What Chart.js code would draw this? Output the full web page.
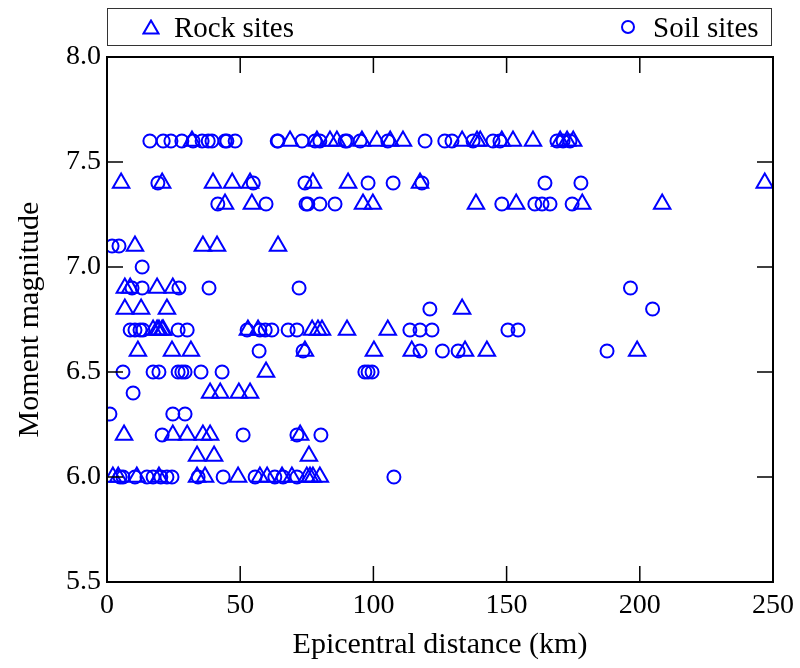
<!DOCTYPE html>
<html>
<head>
<meta charset="utf-8">
<script src="https://cdn.jsdelivr.net/npm/chart.js@4.4.1/dist/chart.umd.min.js"></script>
<style>
  html, body { margin: 0; padding: 0; background: #fff; }
  #wrap { position: relative; width: 800px; height: 668px; }
  #legenda {
    position: absolute; left: 107px; top: 8px; width: 665px; height: 38px;
    border: 1px solid #333; box-sizing: border-box;
    font-family: "Liberation Serif", "DejaVu Serif", serif; font-size: 29px; color: #000;
  }
  #legenda span { position: absolute; top: 0; line-height: 36px; }
  #legenda svg { position: absolute; top: 10px; }
</style>
</head>
<body>
<div id="wrap">
  <canvas id="myChart" width="800" height="668"></canvas>
  <div id="legenda">
    <svg width="18" height="16" style="left:34px"><polygon points="9,1.5 16.5,14.5 1.5,14.5" fill="none" stroke="blue" stroke-width="2"/></svg>
    <span style="left:66px">Rock sites</span>
    <svg width="18" height="16" style="left:511px"><circle cx="9" cy="8" r="6" fill="none" stroke="blue" stroke-width="2"/></svg>
    <span style="left:545px">Soil sites</span>
  </div>
</div>
<script>
// niveis de magnitude (eixo y) e distancias (km)
var magnitudes = [7.6, 7.4, 7.3, 7.1, 7.0, 6.9, 6.8, 6.7, 6.6, 6.5, 6.4, 6.3, 6.2, 6.1, 6.0];

var distRocha = [
    [31.9, 68.7, 78.8, 83.7, 86.3, 95.7, 101.3, 106.3, 111.1, 133.3, 138.9, 140.1, 148.2, 152.4, 159.9, 170.1, 172.7, 175.0],
    [5.3, 20.7, 39.8, 47.0, 53.7, 77.3, 90.5, 117.5, 246.9],
    [44.3, 54.4, 96.1, 99.8, 138.5, 153.6, 178.4, 208.4],
    [10.5, 36.0, 41.3, 64.2],
    [],
    [6.7, 8.7, 18.8, 24.7],
    [6.7, 12.8, 22.5, 133.3],
    [17.3, 18.8, 19.5, 20.7, 21.1, 52.9, 56.7, 77.0, 79.2, 80.7, 90.1, 105.4],
    [11.6, 24.4, 31.5, 74.3, 100.2, 114.4, 134.4, 142.6, 199.0],
    [59.7],
    [38.7, 42.5, 49.5, 53.7],
    [],
    [6.4, 24.7, 30.1, 36.0, 38.7, 72.5],
    [33.8, 40.2, 75.8],
    [2.2, 4.2, 11.2, 19.5, 33.8, 36.8, 49.2, 57.4, 60.1, 65.7, 69.4, 75.0, 76.2, 77.3, 79.9]
];

var distSolo = [
    [16.1, 21.1, 24.0, 28.1, 32.3, 35.7, 38.0, 39.4, 44.3, 45.0, 48.1, 63.9, 64.2, 73.2, 78.1, 79.9, 89.4, 90.1, 95.0, 105.4, 119.4, 126.8, 129.5, 137.4, 144.9, 147.5, 168.9, 171.2, 173.8],
    [19.1, 54.9, 74.3, 98.0, 107.4, 118.2, 164.4, 177.9],
    [41.6, 59.7, 74.7, 75.4, 79.9, 85.6, 148.2, 160.6, 163.3, 166.3, 174.6],
    [1.9, 4.5],
    [13.2],
    [9.4, 13.2, 27.0, 38.3, 72.1, 196.5],
    [121.2, 204.8],
    [8.7, 10.5, 12.4, 13.5, 26.7, 30.1, 52.6, 57.4, 59.4, 61.9, 68.0, 71.3, 113.7, 117.5, 122.0, 150.5, 154.3],
    [57.1, 73.6, 117.5, 125.9, 131.8, 187.7],
    [6.0, 17.3, 19.5, 26.7, 28.1, 29.3, 35.3, 43.2, 96.8, 98.0, 99.5],
    [9.8],
    [1.1, 24.7, 29.3],
    [20.7, 51.1, 71.3, 80.3],
    [],
    [4.9, 6.0, 10.5, 15.0, 17.3, 20.2, 22.5, 24.4, 34.2, 43.6, 55.6, 63.0, 66.1, 71.3, 107.7]
];

var ticksX = [0, 50, 100, 150, 200, 250];
var ticksY = [5.5, 6.0, 6.5, 7.0, 7.5, 8.0];

function montarPontos(listas) {
    var pontos = [];
    for (var i = 0; i < magnitudes.length; i++) {
        for (var j = 0; j < listas[i].length; j++) {
            pontos.push({ x: listas[i][j], y: magnitudes[i] });
        }
    }
    return pontos;
}

var fonte = "'Liberation Serif', 'DejaVu Serif', serif";

// moldura e marcas de escala para dentro
var moldura = {
    id: 'moldura',
    afterDraw: function (chart) {
        var ctx = chart.ctx;
        var a = chart.chartArea;
        var sx = chart.scales.x, sy = chart.scales.y;
        var t = 16;
        ctx.save();
        ctx.strokeStyle = '#000';
        ctx.lineWidth = 1.5;
        ticksX.forEach(function (v) {
            var px = sx.getPixelForValue(v);
            ctx.beginPath();
            ctx.moveTo(px, a.bottom); ctx.lineTo(px, a.bottom - t);
            ctx.moveTo(px, a.top); ctx.lineTo(px, a.top + t);
            ctx.stroke();
        });
        ticksY.forEach(function (v) {
            var py = sy.getPixelForValue(v);
            ctx.beginPath();
            ctx.moveTo(a.left, py); ctx.lineTo(a.left + t, py);
            ctx.moveTo(a.right, py); ctx.lineTo(a.right - t, py);
            ctx.stroke();
        });
        ctx.lineWidth = 2;
        ctx.strokeRect(a.left, a.top, a.right - a.left, a.bottom - a.top);
        ctx.restore();
    }
};

var Grafico = new Chart(document.getElementById('myChart'), {
    type: 'scatter',
    data: {
        datasets: [{
            label: 'Rock sites',
            data: montarPontos(distRocha),
            pointStyle: 'triangle',
            pointRadius: 9.5,
            borderColor: 'blue',
            backgroundColor: 'rgba(0,0,0,0)',
            borderWidth: 2
        }, {
            label: 'Soil sites',
            data: montarPontos(distSolo),
            pointStyle: 'circle',
            pointRadius: 6.5,
            borderColor: 'blue',
            backgroundColor: 'rgba(0,0,0,0)',
            borderWidth: 2
        }]
    },
    options: {
        responsive: false,
        animation: false,
        layout: { padding: { top: 57, right: 27, left: 0, bottom: 0 } },
        plugins: { legend: { display: false }, tooltip: { enabled: false } },
        scales: {
            x: {
                type: 'linear', min: 0, max: 250,
                afterBuildTicks: function (s) { s.ticks = ticksX.map(function (v) { return { value: v }; }); },
                afterFit: function (s) { s.height = 86; s.paddingRight = 27; },
                grid: { display: false, drawTicks: false },
                border: { display: false },
                ticks: { color: '#000', font: { family: fonte, size: 28 }, padding: 7, maxRotation: 0 },
                title: { display: true, text: 'Epicentral distance (km)', color: '#000', font: { family: fonte, size: 30 }, padding: { top: 0, bottom: 5 } }
            },
            y: {
                type: 'linear', min: 5.5, max: 8.0,
                afterBuildTicks: function (s) { s.ticks = ticksY.map(function (v) { return { value: v }; }); },
                afterFit: function (s) { s.width = 107; },
                grid: { display: false, drawTicks: false },
                border: { display: false },
                ticks: { color: '#000', font: { family: fonte, size: 28 }, padding: 6, callback: function (v) { return v.toFixed(1); } },
                title: { display: true, text: 'Moment magnitude', color: '#000', font: { family: fonte, size: 30 }, padding: { top: 12, bottom: 0 } }
            }
        }
    },
    plugins: [moldura]
});
</script>
</body>
</html>
